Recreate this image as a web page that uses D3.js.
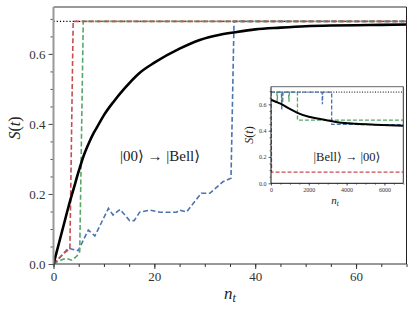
<!DOCTYPE html>
<html lang="en">
<head>
<meta charset="utf-8">
<title>S(t) vs n_t</title>
<script src="https://cdn.jsdelivr.net/npm/d3@7"></script>
<style>
  body { margin: 0; background: #fff; }
  svg { display: block; }
</style>
</head>
<body>
<script>
// ---- data ----
var ln2 = 0.693;

// main panel: |00> -> |Bell>
var mainBlack = [[0,0],[1,0.055],[2,0.11],[3,0.165],[4,0.215],[5,0.265],[6,0.31],[7,0.345],[8,0.375],[9,0.40],[10,0.425],[12,0.465],[14,0.50],[17,0.545],[20,0.575],[25,0.615],[29,0.64],[33,0.655],[36,0.662],[40,0.67],[45,0.675],[50,0.679],[55,0.681],[60,0.682],[65,0.683],[70,0.684]];
var mainRed = [[0,0],[1,0.015],[2,0.03],[3.25,0.043],[3.9,0.693],[70,0.693]];
var mainGreen = [[0,0],[1,0.008],[2,0.014],[2.6,0.016],[3.6,0.011],[4.6,0.022],[5.2,0.035],[5.9,0.693],[70,0.693]];
var mainBlue = [[0,0],[1.5,0.022],[2.9,0.045],[4.9,0.038],[6.9,0.097],[8.2,0.08],[10.9,0.159],[11.8,0.14],[13.2,0.156],[15.1,0.124],[16,0.124],[17.1,0.148],[19.1,0.154],[21.1,0.148],[24.4,0.148],[25,0.154],[26.4,0.149],[29.3,0.202],[31,0.202],[33.6,0.235],[35.2,0.245],[35.8,0.693],[70,0.693]];

// inset: |Bell> -> |00>
var insBlack = [[0,0.635],[250,0.62],[500,0.605],[1000,0.565],[1400,0.535],[2000,0.505],[2600,0.488],[3000,0.478],[3600,0.462],[4500,0.452],[5500,0.445],[7000,0.437]];
var insRed = [[0,0.693],[30,0.085],[7000,0.085]];
var insGreen = [[0,0.693],[310,0.693],[330,0.62],[350,0.693],[600,0.693],[620,0.61],[640,0.693],[930,0.693],[950,0.62],[970,0.693],[1400,0.693],[1400,0.48],[7000,0.48]];
var insBlue = [[0,0.693],[550,0.693],[570,0.56],[590,0.693],[2700,0.693],[2720,0.60],[2740,0.693],[3210,0.693],[3210,0.448],[7000,0.445]];

var mainXMajor = [0,20,40,60];
var mainYMajor = [0.0,0.2,0.4,0.6];
var insXMajor = [0,2000,4000,6000];
var insYMajor = [0.0,0.2,0.4,0.6];

var W = 415, H = 312;
var serif = "'Liberation Serif', 'DejaVu Serif', serif";
var cRed = "#c44e52", cGreen = "#55a868", cBlue = "#4c72b0";

var svg = d3.select("body").append("svg").attr("width", W).attr("height", H);

// ---- main axes ----
var x = d3.scaleLinear().domain([0,70]).range([53.5,406.5]);
var y = d3.scaleLinear().domain([0,0.734]).range([264,7]);

function minorTicks(lo, hi, step) {
  var out = [];
  for (var v = lo; v <= hi + 1e-9; v += step) out.push(+v.toFixed(6));
  return out;
}

function styleAxis(g, col, fs) {
  g.select(".domain").remove();
  g.selectAll("line").attr("stroke", col);
  g.attr("font-family", serif);
  g.selectAll("text").attr("font-size", fs).attr("fill", "#333");
}

svg.append("g").attr("transform","translate(0,264)")
  .call(d3.axisBottom(x).tickValues(minorTicks(0,70,5)).tickSize(3).tickFormat(""))
  .call(styleAxis, "#333", "13px");
svg.append("g").attr("transform","translate(0,264)")
  .call(d3.axisBottom(x).tickValues(mainXMajor).tickSize(5).tickPadding(3).tickFormat(d3.format("d")))
  .call(styleAxis, "#333", "13px");
svg.append("g").attr("transform","translate(53.5,0)")
  .call(d3.axisLeft(y).tickValues(minorTicks(0,0.7,0.05)).tickSize(3).tickFormat(""))
  .call(styleAxis, "#555", "13px");
svg.append("g").attr("transform","translate(53.5,0)")
  .call(d3.axisLeft(y).tickValues(mainYMajor).tickSize(5).tickPadding(3).tickFormat(d3.format(".1f")))
  .call(styleAxis, "#555", "13px");

svg.append("clipPath").attr("id","mclip").append("rect")
  .attr("x",53.5).attr("y",7).attr("width",353).attr("height",257);

var line = d3.line().x(function(d){ return x(d[0]); }).y(function(d){ return y(d[1]); });
var smooth = d3.line().curve(d3.curveMonotoneX).x(function(d){ return x(d[0]); }).y(function(d){ return y(d[1]); });
var gm = svg.append("g").attr("clip-path","url(#mclip)");

gm.append("path").datum([[0,ln2],[70,ln2]]).attr("d", line)
  .attr("fill","none").attr("stroke","#000").attr("stroke-width",1.2).attr("stroke-dasharray","1.2,2");
gm.append("path").datum(mainBlue).attr("d", line)
  .attr("fill","none").attr("stroke",cBlue).attr("stroke-width",1.6).attr("stroke-dasharray","5,2.6");
gm.append("path").datum(mainGreen).attr("d", line)
  .attr("fill","none").attr("stroke",cGreen).attr("stroke-width",1.6).attr("stroke-dasharray","5,2.6");
gm.append("path").datum(mainRed).attr("d", line)
  .attr("fill","none").attr("stroke",cRed).attr("stroke-width",1.6).attr("stroke-dasharray","5,2.6");
gm.append("path").datum(mainBlack).attr("d", smooth)
  .attr("fill","none").attr("stroke","#000").attr("stroke-width",2.6).attr("stroke-linejoin","round");

// spines
svg.append("line").attr("x1",53.5).attr("x2",53.5).attr("y1",7).attr("y2",264).attr("stroke","#999").attr("stroke-width",2);
svg.append("line").attr("x1",53.5).attr("x2",406.5).attr("y1",7).attr("y2",7).attr("stroke","#999").attr("stroke-width",2);
svg.append("line").attr("x1",53.5).attr("x2",406.5).attr("y1",264).attr("y2",264).attr("stroke","#333").attr("stroke-width",1);
svg.append("line").attr("x1",406.5).attr("x2",406.5).attr("y1",7).attr("y2",264).attr("stroke","#222").attr("stroke-width",1);

// axis labels
function label(t, fs) { return t.attr("font-family", serif).attr("fill","#222").attr("font-size", fs); }
label(svg.append("text").attr("transform","translate(20,128) rotate(-90)").attr("text-anchor","middle"), "16px")
  .html('<tspan font-style="italic">S</tspan>(<tspan font-style="italic">t</tspan>)');
label(svg.append("text").attr("x",230).attr("y",299).attr("text-anchor","middle"), "17px")
  .html('<tspan font-style="italic">n</tspan><tspan font-style="italic" font-size="12px" dy="3">t</tspan>');
label(svg.append("text").attr("x",160).attr("y",161).attr("text-anchor","middle"), "15px")
  .text("|00\u27E9 \u2192 |Bell\u27E9");

// ---- inset ----
var ix = d3.scaleLinear().domain([0,7000]).range([271,403.3]);
var iy = d3.scaleLinear().domain([0,0.734]).range([183.3,86.7]);

svg.append("rect").attr("x",271).attr("y",86.7).attr("width",132.3).attr("height",96.6).attr("fill","#fff");

function styleInset(g) {
  g.select(".domain").remove();
  g.selectAll("line").attr("stroke","#333").attr("stroke-width",0.6);
  g.attr("font-family", serif);
  g.selectAll("text").attr("font-size","6px").attr("fill","#333");
}
svg.append("g").attr("transform","translate(0,183.3)")
  .call(d3.axisBottom(ix).tickValues(minorTicks(0,7000,500)).tickSize(1.5).tickFormat(""))
  .call(styleInset);
svg.append("g").attr("transform","translate(0,183.3)")
  .call(d3.axisBottom(ix).tickValues(insXMajor).tickSize(2.5).tickPadding(2).tickFormat(d3.format("d")))
  .call(styleInset);
svg.append("g").attr("transform","translate(271,0)")
  .call(d3.axisLeft(iy).tickValues(minorTicks(0,0.7,0.05)).tickSize(1.5).tickFormat(""))
  .call(styleInset);
svg.append("g").attr("transform","translate(271,0)")
  .call(d3.axisLeft(iy).tickValues(insYMajor).tickSize(2.5).tickPadding(2).tickFormat(d3.format(".1f")))
  .call(styleInset);

svg.append("clipPath").attr("id","iclip").append("rect")
  .attr("x",271).attr("y",86.7).attr("width",132.3).attr("height",96.6);
var iline = d3.line().x(function(d){ return ix(d[0]); }).y(function(d){ return iy(d[1]); });
var ismooth = d3.line().curve(d3.curveMonotoneX).x(function(d){ return ix(d[0]); }).y(function(d){ return iy(d[1]); });
var gi = svg.append("g").attr("clip-path","url(#iclip)");

gi.append("path").datum([[0,ln2],[7000,ln2]]).attr("d", iline)
  .attr("fill","none").attr("stroke","#000").attr("stroke-width",1).attr("stroke-dasharray","1,1.6");
gi.append("path").datum(insRed).attr("d", iline)
  .attr("fill","none").attr("stroke",cRed).attr("stroke-width",1.3).attr("stroke-dasharray","4,2");
gi.append("path").datum(insGreen).attr("d", iline)
  .attr("fill","none").attr("stroke",cGreen).attr("stroke-width",1.3).attr("stroke-dasharray","4,2");
gi.append("path").datum(insBlue).attr("d", iline)
  .attr("fill","none").attr("stroke",cBlue).attr("stroke-width",1.3).attr("stroke-dasharray","4,2");
gi.append("path").datum(insBlack).attr("d", ismooth)
  .attr("fill","none").attr("stroke","#000").attr("stroke-width",2).attr("stroke-linejoin","round");

svg.append("line").attr("x1",271).attr("x2",271).attr("y1",86.7).attr("y2",183.3).attr("stroke","#111").attr("stroke-width",1);
svg.append("line").attr("x1",271).attr("x2",403.3).attr("y1",86.7).attr("y2",86.7).attr("stroke","#666").attr("stroke-width",1);
svg.append("line").attr("x1",271).attr("x2",403.3).attr("y1",183.3).attr("y2",183.3).attr("stroke","#111").attr("stroke-width",1);
svg.append("line").attr("x1",403.3).attr("x2",403.3).attr("y1",86.7).attr("y2",183.3).attr("stroke","#333").attr("stroke-width",1);

label(svg.append("text").attr("transform","translate(253,135) rotate(-90)").attr("text-anchor","middle"), "12px")
  .html('<tspan font-style="italic">S</tspan>(<tspan font-style="italic">t</tspan>)');
label(svg.append("text").attr("x",335).attr("y",204).attr("text-anchor","middle"), "11px")
  .html('<tspan font-style="italic">n</tspan><tspan font-style="italic" font-size="7.5px" dy="2">t</tspan>');
label(svg.append("text").attr("x",347).attr("y",161).attr("text-anchor","middle"), "12.5px")
  .text("|Bell\u27E9 \u2192 |00\u27E9");
</script>
</body>
</html>
